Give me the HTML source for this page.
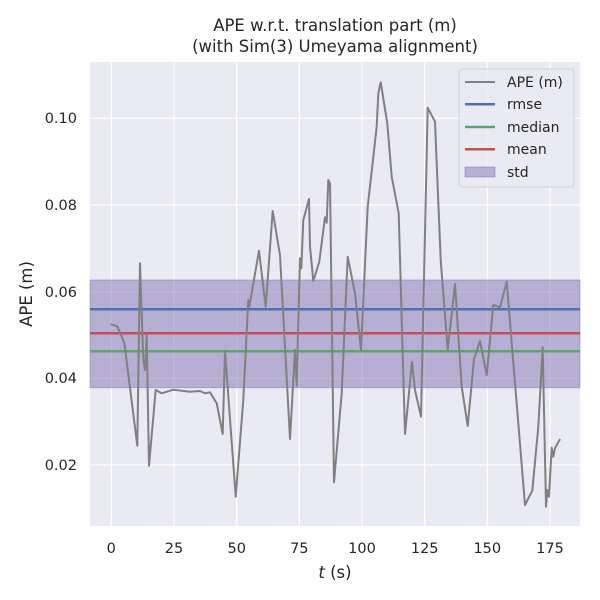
<!DOCTYPE html>
<html><head><style>body{margin:0;background:#fff}svg{display:block;font-family:"DejaVu Sans","Liberation Sans",sans-serif}</style></head><body>
<svg width="600" height="600" viewBox="0 0 600 600" xmlns="http://www.w3.org/2000/svg">
<rect x="90" y="62" width="490" height="464" fill="#eaeaf2"/>
<g stroke="#fff" stroke-width="1.2">
<line x1="111.3" y1="62" x2="111.3" y2="526"/><line x1="174" y1="62" x2="174" y2="526"/><line x1="236.7" y1="62" x2="236.7" y2="526"/><line x1="299.3" y1="62" x2="299.3" y2="526"/><line x1="362" y1="62" x2="362" y2="526"/><line x1="424.7" y1="62" x2="424.7" y2="526"/><line x1="487.3" y1="62" x2="487.3" y2="526"/><line x1="550" y1="62" x2="550" y2="526"/>
<line x1="90" y1="118.3" x2="580" y2="118.3"/><line x1="90" y1="205" x2="580" y2="205"/><line x1="90" y1="291.7" x2="580" y2="291.7"/><line x1="90" y1="378.3" x2="580" y2="378.3"/><line x1="90" y1="465" x2="580" y2="465"/>
</g>
<rect x="90" y="280" width="490" height="107.7" fill="#8172b3" fill-opacity="0.5" stroke="#8172b3" stroke-opacity="0.5"/>
<line x1="90" y1="309.3" x2="580" y2="309.3" stroke="#4c72b0" stroke-width="2.5"/>
<line x1="90" y1="333.3" x2="580" y2="333.3" stroke="#c44e52" stroke-width="2.5"/>
<line x1="90" y1="351.3" x2="580" y2="351.3" stroke="#55a868" stroke-width="2.5"/>
<polyline fill="none" stroke="#808080" stroke-width="2" stroke-linejoin="round" points="110.7,324.3 117.3,326.3 124.3,342.7 137.3,445.7 140,263.3 143.3,360 145,370 146.7,335 149,465.7 155.7,390 161.7,393.3 173.3,389.7 190,391.7 200,391 205,393.3 210,392.3 216.7,403.3 222.7,434 225,351 235.7,496.7 243.3,400 248.3,300 249.3,306.7 259,250.7 265.7,306.7 272.7,211 280,255 290,439 295,350 296.7,385.7 300,258.3 301.3,268.3 303.3,220 309,199 310,246.7 313.3,281 319.3,261.7 325,217.3 326.7,222.7 328.3,180 330,183.3 334,482.3 341.7,393.3 347.7,256.7 355,293.3 361,350 367.7,206.7 376.7,126.7 378.3,93.3 380.7,82.3 387.3,123.3 391.7,176.7 398.7,213.3 405,434 412,361.7 415,390 421,416.7 427.7,107.7 435,121.7 440.7,260 447.7,350 455,284 461.7,386.7 467.7,426 474,359 480,341 486.7,375 493.3,305 500,307.3 506.7,281.7 525,505 532.3,490.7 538.3,426.7 542.7,347.3 546,506.7 547.3,490 549,496.7 551.7,447.7 553.3,456.7 555,448.3 560,439"/>
<g font-size="14.5" fill="#262626" text-anchor="middle">
<text x="111.3" y="553">0</text><text x="174" y="553">25</text><text x="236.7" y="553">50</text><text x="299.3" y="553">75</text><text x="362" y="553">100</text><text x="424.7" y="553">125</text><text x="487.3" y="553">150</text><text x="550" y="553">175</text>
</g>
<g font-size="14.5" fill="#262626" text-anchor="end">
<text x="77" y="123">0.10</text><text x="77" y="210">0.08</text><text x="77" y="297">0.06</text><text x="77" y="383">0.04</text><text x="77" y="470">0.02</text>
</g>
<text x="335" y="578" font-size="16.5" fill="#262626" text-anchor="middle"><tspan font-style="italic">t</tspan> (s)</text>
<text transform="translate(32,294) rotate(-90)" font-size="16.5" fill="#262626" text-anchor="middle">APE (m)</text>
<text x="335" y="31" font-size="16.5" fill="#262626" text-anchor="middle">APE w.r.t. translation part (m)</text>
<text x="335" y="52" font-size="16.5" fill="#262626" text-anchor="middle">(with Sim(3) Umeyama alignment)</text>
<rect x="459" y="69" width="115" height="118" rx="3" fill="#eaeaf2" fill-opacity="0.85" stroke="#d0d0d8"/>
<g stroke-width="2.5"><line x1="465" y1="82" x2="495" y2="82" stroke="#808080" stroke-width="2"/><line x1="465" y1="104.3" x2="495" y2="104.3" stroke="#4c72b0"/><line x1="465" y1="127" x2="495" y2="127" stroke="#55a868"/><line x1="465" y1="149.3" x2="495" y2="149.3" stroke="#c44e52"/></g>
<rect x="465" y="167" width="30" height="10" fill="#8172b3" fill-opacity="0.5" stroke="#8172b3" stroke-opacity="0.5"/>
<g font-size="14" fill="#262626"><text x="507" y="87">APE (m)</text><text x="507" y="109">rmse</text><text x="507" y="132">median</text><text x="507" y="154">mean</text><text x="507" y="177">std</text></g>
</svg>
</body></html>
